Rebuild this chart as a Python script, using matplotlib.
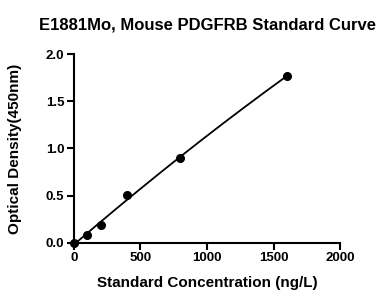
import numpy as np
import matplotlib
matplotlib.use("Agg")
import matplotlib.pyplot as plt

plt.rcParams['font.family'] = ['Liberation Sans', 'DejaVu Sans']
plt.rcParams['font.weight'] = 'bold'

# standard points
conc = [0, 100, 200, 400, 800, 1600]
od = [0.0, 0.08, 0.188, 0.505, 0.895, 1.77]

xticks = [0, 500, 1000, 1500, 2000]
yticks = [0.0, 0.5, 1.0, 1.5, 2.0]

# fitted curve through the standards
coef = np.polyfit(conc, od, 2)
xs = np.linspace(0, 1600, 200)
ys = np.polyval(coef, xs)

fig = plt.figure(figsize=(3.83, 2.91), dpi=100)
ax = fig.add_axes([0.193, 0.166, 0.695, 0.648])
ax.plot(xs, ys, color='black', lw=1.3, clip_on=False)
ax.plot(conc, od, 'o', color='black', ms=5.5, clip_on=False, zorder=3)

ax.set_xlim(0, 2000)
ax.set_ylim(0, 2.0)
ax.set_xticks(xticks)
ax.set_yticks(yticks)
ax.set_yticklabels([f"{v:.1f}" for v in yticks])
for s in ['top', 'right']:
    ax.spines[s].set_visible(False)
for s in ['left', 'bottom']:
    ax.spines[s].set_linewidth(1.5)
ax.tick_params(width=1.5, length=5, labelsize=9.5, pad=2)

ax.set_xlabel('Standard Concentration (ng/L)', fontsize=11, fontweight='bold')
ax.set_ylabel('Optical Density(450nm)', fontsize=11, fontweight='bold')
ax.xaxis.set_label_coords(0.5, -0.175)
ax.yaxis.set_label_coords(-0.195, 0.5)
ax.set_title('E1881Mo, Mouse PDGFRB Standard Curve', fontsize=12, fontweight='bold', pad=18)

fig.savefig('out.png', dpi=100)
